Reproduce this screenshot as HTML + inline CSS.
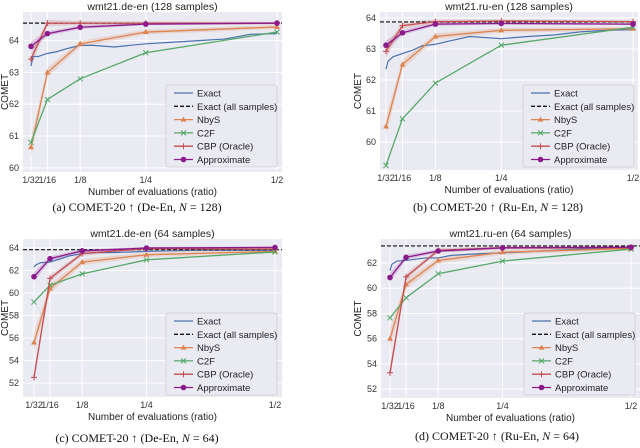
<!DOCTYPE html>
<html><head><meta charset="utf-8"><style>
body{margin:0;background:#fff;width:640px;height:448px;overflow:hidden}
svg{display:block}
text{font-family:"Liberation Sans",sans-serif}
text.cap{font-family:"Liberation Serif",serif}
</style></head><body>
<svg id="chart" width="640" height="448" viewBox="0 0 640 448"></svg>
<script>
const ratios=[1/32,1/16,1/8,1/4,1/2];
const xTickLabels=["1/32","1/16","1/8","1/4","1/2"];
const exactRatios=[0.03125,0.035,0.045,0.0625,0.08,0.1,0.125,0.15,0.19,0.25,0.3,0.35,0.4,0.45,0.5];
const legendLabels=["Exact","Exact (all samples)","NbyS","C2F","CBP (Oracle)","Approximate"];

const titles=["wmt21.de-en (128 samples)","wmt21.ru-en (128 samples)","wmt21.de-en (64 samples)","wmt21.ru-en (64 samples)"];
const captions=["(a) COMET-20 \u2191 (De-En, ","(b) COMET-20 \u2191 (Ru-En, ","(c) COMET-20 \u2191 (De-En, ","(d) COMET-20 \u2191 (Ru-En, "];
const captionN=["128","128","64","64"];

const nbysA=[60.65,63.0,63.9,64.27,64.43];
const c2fA=[60.8,62.15,62.8,63.62,64.27];
const cbpA=[63.42,64.55,64.55,64.55,64.55];
const approxA=[63.82,64.22,64.42,64.52,64.55];
const exactA=[63.2,63.5,63.5,63.6,63.65,63.75,63.85,63.85,63.8,63.9,63.95,64.0,64.05,64.2,64.22];
const allA=64.55;
const yTicksA=[60,61,62,63,64];

const nbysB=[60.5,62.5,63.4,63.6,63.65];
const c2fB=[59.25,60.75,61.9,63.12,63.7];
const cbpB=[62.92,63.75,63.88,63.9,63.88];
const approxB=[63.12,63.52,63.8,63.82,63.8];
const exactB=[62.35,62.6,62.75,62.85,62.95,63.1,63.15,63.25,63.4,63.33,63.4,63.45,63.55,63.6,63.62];
const allB=63.87;
const yTicksB=[60,61,62,63,64];

const nbysC=[55.6,60.4,62.75,63.4,63.7];
const c2fC=[59.2,60.7,61.7,62.95,63.65];
const cbpC=[52.5,61.3,63.5,63.95,63.9];
const approxC=[61.45,63.05,63.75,64.0,64.05];
const exactC=[62.3,62.5,62.7,62.75,63.0,63.3,63.5,63.6,63.6,63.7,63.75,63.8,63.8,63.8,63.8];
const allC=63.85;
const yTicksC=[52,54,56,58,60,62,64];

const nbysD=[56.0,60.3,62.2,62.85,63.15];
const c2fD=[57.65,59.25,61.15,62.15,63.1];
const cbpD=[53.3,60.9,63.0,63.2,63.2];
const approxD=[60.85,62.45,62.95,63.2,63.25];
const exactD=[61.4,61.9,62.15,62.2,62.3,62.4,62.4,62.6,62.7,62.8,62.9,63.0,63.1,63.15,63.15];
const allD=63.35;
const yTicksD=[52,54,56,58,60,62];

const NS="http://www.w3.org/2000/svg";
const svg=document.getElementById("chart");
function mk(tag,attrs,parent,txt){const e=document.createElementNS(NS,tag);for(const k in attrs)e.setAttribute(k,attrs[k]);if(txt!==undefined)e.textContent=txt;(parent||svg).appendChild(e);return e;}

const C={exact:"#4c72b0",nbys:"#dd8452",c2f:"#55a868",cbp:"#c44e52",approx:"#8b1a8b"};

function marker(g,kind,x,y,col){
  let m;
  if(kind==="tri") m=mk("polygon",{points:`${x},${y-3} ${x-3},${y+2} ${x+3},${y+2}`,fill:col},g);
  else if(kind==="x") m=mk("path",{d:`M${x-2.5},${y-2.5}L${x+2.5},${y+2.5}M${x-2.5},${y+2.5}L${x+2.5},${y-2.5}`,stroke:col,"stroke-width":1},g);
  else if(kind==="plus") m=mk("path",{d:`M${x-3},${y}L${x+3},${y}M${x},${y-3}L${x},${y+3}`,stroke:col,"stroke-width":1},g);
  else m=mk("circle",{cx:x,cy:y,r:2.8,fill:col},g);
  
  
}

const panels=[
 {px:23,pw:259,py:12,ph:160,x0px:31,x1px:277,ymin:59.87,ymax:64.9,yt:yTicksA,d:[nbysA,c2fA,cbpA,approxA,exactA,allA],lg:[166,85],cap:[137,211],yl:8},
 {px:380,pw:258,py:12,ph:158,x0px:386,x1px:633,ymin:59.1,ymax:64.19,yt:yTicksB,d:[nbysB,c2fB,cbpB,approxB,exactB,allB],lg:[523,85],cap:[498,211],yl:361},
 {px:23,pw:259,py:239,ph:158,x0px:34,x1px:275,ymin:50.76,ymax:64.8,yt:yTicksC,d:[nbysC,c2fC,cbpC,approxC,exactC,allC],lg:[166,313],cap:[137,442],yl:8},
 {px:381,pw:259,py:239,ph:159,x0px:390,x1px:631,ymin:51.3,ymax:63.9,yt:yTicksD,d:[nbysD,c2fD,cbpD,approxD,exactD,allD],lg:[524,313],cap:[497,440],yl:361}
];

panels.forEach((p,i)=>{
  const g=mk("g",{});
  
  
  const xs=r=>p.x0px+(r-1/32)/(0.5-1/32)*(p.x1px-p.x0px);
  const ys=v=>p.py+(p.ymax-v)/(p.ymax-p.ymin)*p.ph;
  const bg=mk("rect",{x:p.px,y:p.py,width:p.pw,height:p.ph,fill:"#eaeaf2"},g);
  
  ratios.forEach((r,k)=>{
    mk("line",{x1:xs(r),x2:xs(r),y1:p.py,y2:p.py+p.ph,stroke:"#fff","stroke-width":1},g);
    const t=mk("text",{x:xs(r),y:p.py+p.ph+11,"font-size":9,"text-anchor":"middle",fill:"#333"},g,xTickLabels[k]);
    
  });
  p.yt.forEach(v=>{
    mk("line",{x1:p.px,x2:p.px+p.pw,y1:ys(v),y2:ys(v),stroke:"#fff","stroke-width":1},g);
    const t=mk("text",{x:p.px-4,y:ys(v)+3,"font-size":9,"text-anchor":"end",fill:"#333"},g,String(v));
    
  });
  const tt=mk("text",{x:p.px+p.pw/2,y:p.py-2,"font-size":10.5,"text-anchor":"middle",fill:"#222"},g,titles[i]);
  
  const xl=mk("text",{x:p.px+p.pw/2,y:p.py+p.ph+23,"font-size":10,"text-anchor":"middle",fill:"#222"},g,"Number of evaluations (ratio)");
  
  const yc=p.py+p.ph/2;
  const yl=mk("text",{x:p.yl,y:yc,"font-size":10,"text-anchor":"middle",fill:"#222",transform:`rotate(-90 ${p.yl} ${yc})`},g,"COMET");
  

  const [nb,c2,cb,ap,ex,all]=p.d;
  const band=(arr,col,w)=>{
    const up=arr.map((v,k)=>`${xs(ratios[k])},${ys(v+w/(k+1))}`);
    const dn=arr.map((v,k)=>`${xs(ratios[k])},${ys(v-w/(k+1))}`).reverse();
    const b=mk("polygon",{points:up.concat(dn).join(" "),fill:col,opacity:0.2},g);
    
  };
  band(nb,C.nbys,(p.ymax-p.ymin)*0.06);
  band(ap,C.approx,(p.ymax-p.ymin)*0.03);
  band(cb,C.cbp,(p.ymax-p.ymin)*0.04);
  const exl=mk("polyline",{points:ex.map((v,k)=>`${xs(exactRatios[k])},${ys(v)}`).join(" "),fill:"none",stroke:C.exact,"stroke-width":1.2},g);
  
  const al=mk("line",{x1:p.px,x2:p.px+p.pw,y1:ys(all),y2:ys(all),stroke:"#111","stroke-width":1.2,"stroke-dasharray":"4,2"},g);
  
  const series=[[nb,C.nbys,"tri","nbys-line"],[c2,C.c2f,"x","c2f-line"],[cb,C.cbp,"plus","cbp-line"],[ap,C.approx,"dot","approximate-line"]];
  series.forEach(([arr,col,mkind,name])=>{
    const l=mk("polyline",{points:arr.map((v,k)=>`${xs(ratios[k])},${ys(v)}`).join(" "),fill:"none",stroke:col,"stroke-width":1.3},g);
    
    arr.forEach((v,k)=>marker(g,mkind,xs(ratios[k]),ys(v),col));
  });
  const [lx,ly]=p.lg;
  const lgG=mk("g",{},g);
  
  mk("rect",{x:lx,y:ly,width:111,height:82,fill:"#eaeaf2",stroke:"#ccc","stroke-width":0.8,rx:2},lgG);
  const cols=[C.exact,"#111",C.nbys,C.c2f,C.cbp,C.approx];
  const kinds=[null,null,"tri","x","plus","dot"];
  legendLabels.forEach((lab,k)=>{
    const yy=ly+8+k*13.3;
    const e=mk("g",{},lgG);
    
    mk("line",{x1:lx+8,x2:lx+27,y1:yy,y2:yy,stroke:cols[k],"stroke-width":1.3,"stroke-dasharray":k===1?"4,2":"none"},e);
    if(kinds[k])marker(e,kinds[k],lx+17.5,yy,cols[k]);
    mk("text",{x:lx+31,y:yy+3.5,"font-size":9.5,fill:"#222"},e,lab);
  });
  const cp=mk("text",{x:p.cap[0],y:p.cap[1],"font-size":12,"text-anchor":"middle",fill:"#111","class":"cap",style:"font-family:'Liberation Serif',serif"},svg);
  
  cp.textContent=captions[i];
  mk("tspan",{"font-style":"italic"},cp,"N");
  mk("tspan",{},cp," = "+captionN[i]+")");
});
</script>
</body></html>
